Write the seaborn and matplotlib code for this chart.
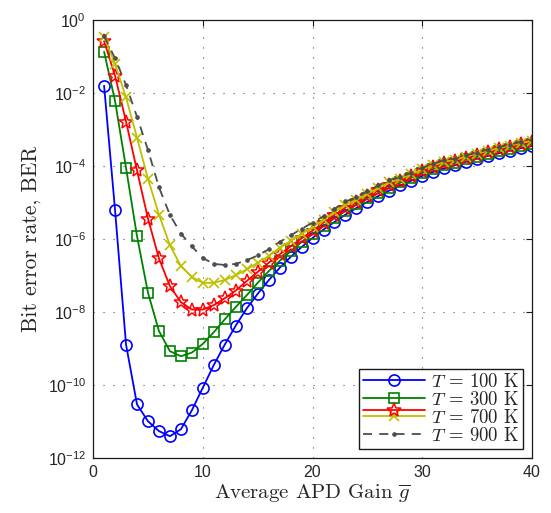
import numpy as np
import pandas as pd
import matplotlib
matplotlib.use("Agg")
import matplotlib.pyplot as plt
import seaborn as sns
from matplotlib.legend_handler import HandlerBase, HandlerLine2D
from matplotlib.ticker import FixedLocator, FuncFormatter, NullLocator

# ---------------- data (log10 of BER) ----------------
gain = list(range(1, 41))

ber_100 = [-1.80, -5.21, -8.89, -10.53, -10.99, -11.26, -11.40, -11.21, -10.69, -10.07,
           -9.45, -8.89, -8.37, -7.90, -7.50, -7.13, -6.79, -6.49, -6.22, -5.97,
           -5.74, -5.53, -5.33, -5.15, -4.98, -4.82, -4.67, -4.53, -4.40, -4.27,
           -4.16, -4.06, -3.97, -3.88, -3.80, -3.72, -3.65, -3.58, -3.51, -3.45]
ber_300 = [-0.87, -2.22, -4.05, -5.92, -7.47, -8.52, -9.07, -9.21, -9.11, -8.87,
           -8.55, -8.20, -7.86, -7.54, -7.20, -6.88, -6.60, -6.33, -6.08, -5.86,
           -5.64, -5.43, -5.23, -5.05, -4.88, -4.74, -4.59, -4.45, -4.32, -4.19,
           -4.08, -3.98, -3.91, -3.82, -3.74, -3.66, -3.59, -3.52, -3.45, -3.39]
ber_700r = [-0.58, -1.53, -2.78, -4.12, -5.44, -6.53, -7.29, -7.73, -7.93, -7.93,
            -7.81, -7.62, -7.41, -7.15, -6.90, -6.65, -6.42, -6.20, -5.98, -5.77,
            -5.55, -5.34, -5.14, -4.99, -4.82, -4.66, -4.51, -4.40, -4.27, -4.14,
            -4.03, -3.93, -3.86, -3.77, -3.69, -3.61, -3.54, -3.47, -3.40, -3.34]
ber_700 = [-0.46, -1.21, -2.12, -3.22, -4.35, -5.33, -6.17, -6.74, -7.04, -7.20,
           -7.20, -7.12, -6.99, -6.83, -6.65, -6.47, -6.24, -6.05, -5.86, -5.67,
           -5.47, -5.26, -5.06, -4.93, -4.76, -4.60, -4.45, -4.35, -4.22, -4.09,
           -3.98, -3.88, -3.83, -3.74, -3.66, -3.58, -3.51, -3.44, -3.37, -3.31]
ber_900 = [-0.44, -1.05, -1.78, -2.65, -3.56, -4.58, -5.34, -5.85, -6.20, -6.52,
           -6.68, -6.71, -6.68, -6.58, -6.45, -6.28, -6.08, -5.90, -5.72, -5.55,
           -5.38, -5.17, -4.97, -4.86, -4.69, -4.53, -4.38, -4.31, -4.18, -4.05,
           -3.94, -3.84, -3.80, -3.71, -3.63, -3.55, -3.48, -3.41, -3.34, -3.28]

legend_labels = ["$T$ = 100 K", "$T$ = 300 K", "$T$ = 700 K", "$T$ = 900 K"]
x_ticks = [0, 10, 20, 30, 40]
y_tick_exps = [0, -2, -4, -6, -8, -10, -12]

# ---------------- style ----------------
sns.set_theme(style="white")
plt.rcParams["font.family"] = ["Liberation Sans", "DejaVu Sans"]
plt.rcParams["mathtext.fontset"] = "cm"
plt.rcParams["axes.unicode_minus"] = False

fig = plt.figure(figsize=(5.51, 5.13), dpi=100)
ax = fig.add_axes([0.169, 0.107, 0.7965, 0.854])

series = [
    (ber_100, dict(color=(0, 0, 1), marker="o", markersize=8, markerfacecolor="none",
                   markeredgecolor=(0, 0, 1), markeredgewidth=1.2, linestyle="-")),
    (ber_300, dict(color=(0, 0.5, 0), marker="s", markersize=7, markerfacecolor="none",
                   markeredgecolor=(0, 0.5, 0), markeredgewidth=1.2, linestyle="-")),
    (ber_700r, dict(color=(1, 0, 0), marker="*", markersize=10.5, markerfacecolor="none",
                    markeredgecolor=(1, 0, 0), markeredgewidth=1.1, linestyle="-")),
    (ber_700, dict(color=(0.75, 0.75, 0), marker="x", markersize=7,
                   markeredgecolor=(0.75, 0.75, 0), markeredgewidth=1.2, linestyle="-")),
    (ber_900, dict(color=(0.3, 0.3, 0.3), marker=".", markersize=5,
                   markeredgecolor=(0.3, 0.3, 0.3), markerfacecolor=(0.3, 0.3, 0.3),
                   markeredgewidth=0.8, linestyle=(0, (5, 4)))),
]

lines = []
for vals, kw in series:
    df = pd.DataFrame({"g": gain, "ber": 10.0 ** np.array(vals)})
    sns.lineplot(data=df, x="g", y="ber", ax=ax, linewidth=1.3, legend=False, **kw)
    lines.append(ax.lines[-1])

ax.set_yscale("log")
ax.set_xlim(0, 40)
ax.set_ylim(1e-12, 1)
ax.xaxis.set_major_locator(FixedLocator(x_ticks))
ax.yaxis.set_major_locator(FixedLocator([10.0 ** e for e in y_tick_exps]))
ax.yaxis.set_minor_locator(NullLocator())
ax.yaxis.set_major_formatter(FuncFormatter(lambda v, p: r"$\mathregular{10^{%d}}$" % round(np.log10(v))))
ax.tick_params(axis="both", which="both", direction="in", top=True, right=True,
               length=4, width=0.8, labelsize=11.5, color="k", pad=5)
for s in ax.spines.values():
    s.set_color("k")
    s.set_linewidth(0.9)
ax.grid(True, which="major", color="k", linestyle=(0, (1, 8)), linewidth=0.8, alpha=0.75)

ax.set_xlabel(r"Average APD Gain $\overline{g}$", fontsize=15, family="cmr10", labelpad=2)
ax.set_ylabel("Bit error rate, BER", fontsize=15.5, family="cmr10", labelpad=5)


class Pair:
    def __init__(self, upper, lower):
        self.upper = upper
        self.lower = lower


class PairHandler(HandlerBase):
    def create_artists(self, legend, orig_handle, xdescent, ydescent, width, height,
                       fontsize, trans):
        hl = HandlerLine2D()
        a = hl.create_artists(legend, orig_handle.lower, xdescent, ydescent, width,
                              height, fontsize, trans)
        b = hl.create_artists(legend, orig_handle.upper, xdescent, ydescent, width,
                              height, fontsize, trans)
        shift = 0.5 * (height + legend.labelspacing * fontsize)
        for art in b:
            art.set_ydata(np.asarray(art.get_ydata()) + shift)
        return a + b


handles = [lines[0], lines[1], Pair(lines[2], lines[3]), lines[4]]
leg = ax.legend(handles, legend_labels, loc="lower right",
                prop={"family": "cmr10", "size": 13.5},
                handler_map={Pair: PairHandler()}, numpoints=1, handlelength=3.3,
                handletextpad=0.3, labelspacing=0.0, borderpad=0.2, borderaxespad=0.5,
                fancybox=False, framealpha=1, edgecolor="k")
leg.get_frame().set_linewidth(1.0)

fig.savefig("out.png", dpi=100)
